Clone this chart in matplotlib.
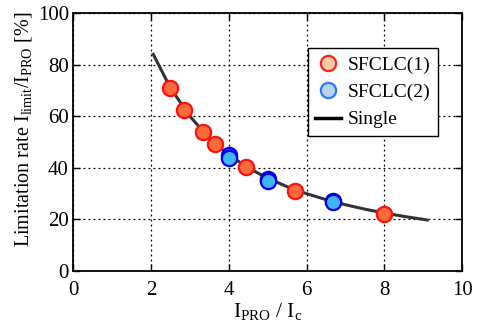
import matplotlib
matplotlib.use("Agg")
import matplotlib.pyplot as plt
from matplotlib.lines import Line2D

plt.rcParams['font.family'] = 'Liberation Serif'
plt.rcParams['mathtext.fontset'] = 'custom'
plt.rcParams['mathtext.rm'] = 'Liberation Serif'
plt.rcParams['mathtext.it'] = 'Liberation Serif'

# single line
single_x = [2.06, 2.5, 3.0, 3.5, 4.0, 4.5, 5.0, 5.5, 6.0, 6.5, 7.0, 7.5, 8.0, 8.5, 9.1]
single_y = [84.0, 71.0, 60.0, 51.5, 45.0, 40.0, 36.0, 32.7, 30.0, 27.7, 25.7, 24.0, 22.5, 21.2, 19.8]

sf1_x = [2.5, 2.857, 3.333, 3.636, 4.444, 5.714, 8.0]
sf1_y = [71.0, 62.4, 53.8, 49.2, 40.4, 31.2, 22.2]

sf2a_x = [4.0, 5.0, 6.667]
sf2a_y = [45.0, 35.8, 27.2]
sf2b_x = [4.0, 5.0, 6.667]
sf2b_y = [43.8, 35.1, 26.6]

fig = plt.figure(figsize=(4.78, 3.27), dpi=100)
ax = fig.add_axes([0.153, 0.171, 0.814, 0.789])

ax.plot(single_x, single_y, color='#333333', lw=2.2, zorder=2)
ax.plot(sf1_x, sf1_y, 'o', ms=11, mfc='#ff6a3d', mec='#ff1010', mew=1.6, ls='none', zorder=3)
ax.plot(sf2a_x, sf2a_y, 'o', ms=11, mfc='#2060ff', mec='#0000ee', mew=1.6, ls='none', zorder=3)
ax.plot(sf2b_x, sf2b_y, 'o', ms=11, mfc='#40b4ff', mec='#0000ee', mew=1.6, ls='none', zorder=4)

ax.set_xlim(0, 10)
ax.set_ylim(0, 100)
ax.set_xticks([0, 2, 4, 6, 8, 10])
ax.set_yticks([0, 20, 40, 60, 80, 100])
ax.grid(True, color='black', ls=(0, (1.5, 2.5)), lw=0.9)
ax.tick_params(direction='in', top=True, right=True, length=5, width=1, labelsize=15)
ax.tick_params(axis='x', pad=7)
ax.tick_params(axis='y', pad=3)
for s in ax.spines.values():
    s.set_linewidth(1.3)

ax.set_xlabel(r'$\mathrm{I_{PRO}}$ / $\mathrm{I_{c}}$', fontsize=15.5, labelpad=1)
ax.set_ylabel(r'Limitation rate $\mathrm{I_{limit}/I_{PRO}}$ [%]', fontsize=14.5)
ax.yaxis.set_label_coords(-0.1, 0.55)

handles = [
    Line2D([], [], marker='o', ls='none', ms=11, mfc='#ffc9a0', mec='#ff2020', mew=1.6),
    Line2D([], [], marker='o', ls='none', ms=11, mfc='#b8d4f0', mec='#2a78ff', mew=1.6),
    Line2D([], [], color='black', lw=2.5),
]
leg = ax.legend(handles, ['SFCLC(1)', 'SFCLC(2)', 'Single'], loc='upper right',
                bbox_to_anchor=(0.938, 0.864), borderaxespad=0, fontsize=14,
                fancybox=False, edgecolor='black', framealpha=1, handlelength=1.3,
                handletextpad=0.35, borderpad=0.4, labelspacing=0.5)
leg.get_frame().set_linewidth(1.0)

fig.savefig('out.png', dpi=100)
